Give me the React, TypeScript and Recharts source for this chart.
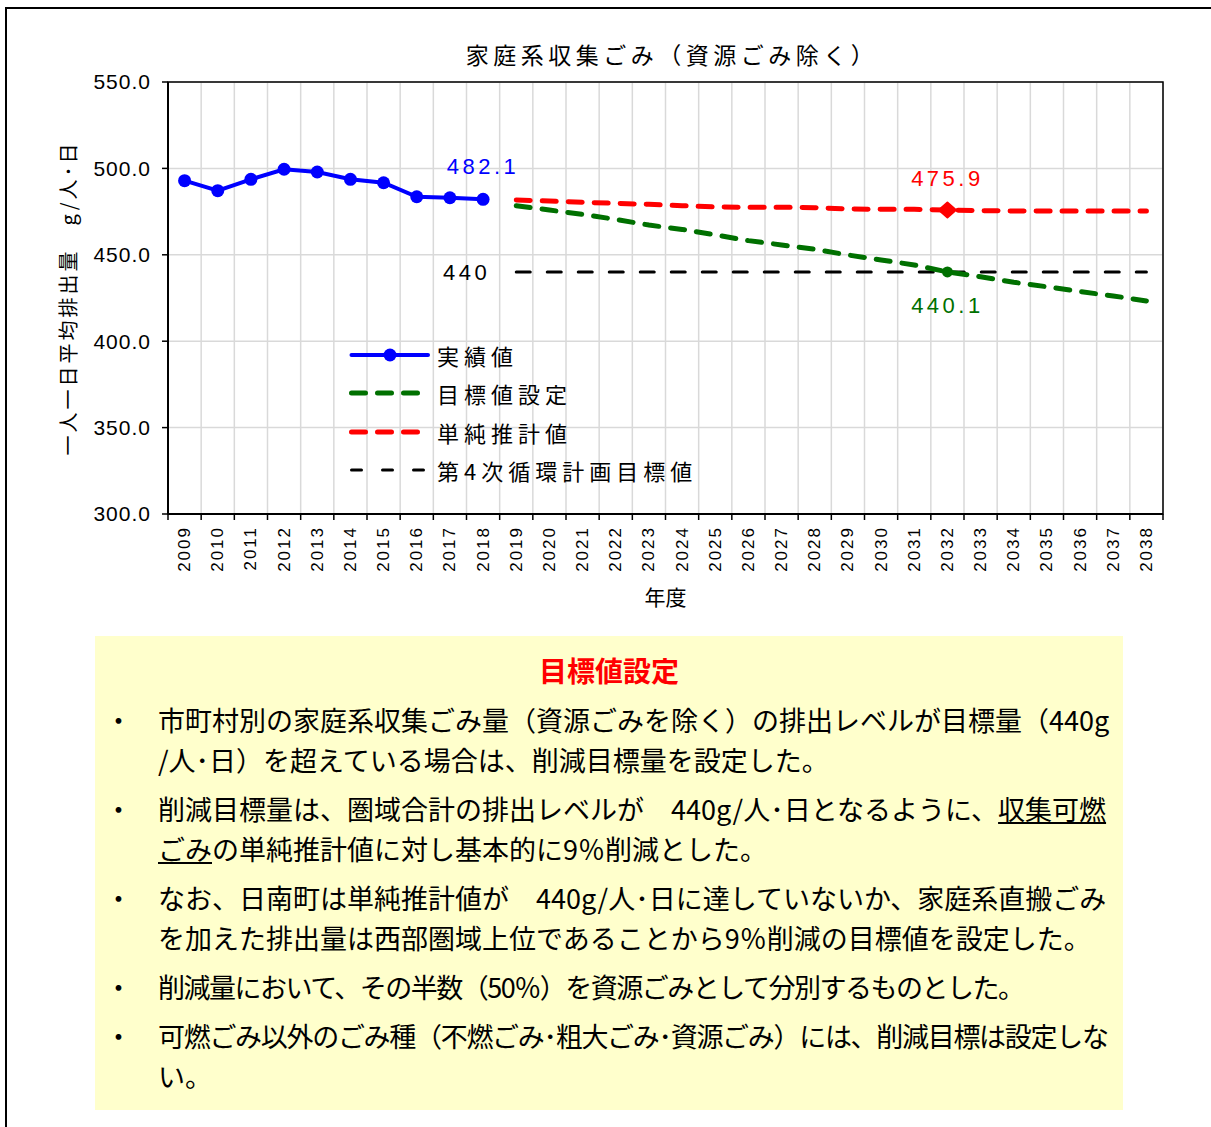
import React from 'react';
import { LineChart, Line, XAxis, YAxis, CartesianGrid, ReferenceArea, Legend, Label } from 'recharts';

const years = [
  '2009', '2010', '2011', '2012', '2013', '2014', '2015', '2016', '2017', '2018',
  '2019', '2020', '2021', '2022', '2023', '2024', '2025', '2026', '2027', '2028',
  '2029', '2030', '2031', '2032', '2033', '2034', '2035', '2036', '2037', '2038',
];

// 実績値 2009-2018
const actual = [492.9, 487.1, 493.7, 499.5, 497.9, 493.7, 491.7, 483.6, 483.0, 482.1];
// 目標値設定 2019-2038
const target = [478.4, 475.9, 473.4, 470.5, 467.2, 464.7, 461.5, 458.2, 455.7, 453.2,
  449.9, 447.0, 444.1, 440.1, 437.3, 434.1, 431.5, 428.7, 426.2, 423.3];
// 単純推計値 2019-2038
const simple = [481.7, 481.1, 480.4, 479.8, 479.2, 478.4, 477.7, 477.5, 477.5, 477.3,
  476.5, 476.3, 476.3, 475.9, 475.5, 475.4, 475.3, 475.3, 475.3, 475.3];
// 第4次循環計画目標値 2019-2038
const plan = [440, 440, 440, 440, 440, 440, 440, 440, 440, 440,
  440, 440, 440, 440, 440, 440, 440, 440, 440, 440];

const yTicks = [300, 350, 400, 450, 500, 550];
const forecastFrom = 10; // 2019
const markIdx = 23; // 2032

const data = years.map((year, i) => ({
  i,
  year,
  actual: i < actual.length ? actual[i] : null,
  target: i >= forecastFrom ? target[i - forecastFrom] : null,
  simple: i >= forecastFrom ? simple[i - forecastFrom] : null,
  plan: i >= forecastFrom ? plan[i - forecastFrom] : null,
}));

const edgeTicks = years.map((_, i) => i - 0.5).concat([years.length - 0.5]);
const centerTicks = years.map((_, i) => i);
const xDomain = [-0.5, years.length - 0.5];

const JP = '"Noto Sans CJK JP", "Noto Sans", sans-serif';
const NUM = '"Liberation Sans", Arial, sans-serif';

const BLUE = '#0000ff';
const GREEN = '#007000';
const RED = '#ff0000';

const legendOrder = ['実績値', '目標値設定', '単純推計値', '第4次循環計画目標値'];
const swatch: Record<string, { w: number; dash?: string; dot?: boolean }> = {
  '実績値': { w: 4, dot: true },
  '目標値設定': { w: 5, dash: '14 12' },
  '単純推計値': { w: 5, dash: '14 12' },
  '第4次循環計画目標値': { w: 3, dash: '10 21' },
};

function YearTick(props: any) {
  const { x, y, payload } = props;
  return (
    <text x={x} y={y} transform={`rotate(-90 ${x} ${y})`} textAnchor="end" dominantBaseline="central"
      fontFamily={NUM} fontSize={17} letterSpacing={2} fill="#000">
      {years[payload.value]}
    </text>
  );
}

function LegendBox(props: any) {
  const items = [...(props.payload || [])].sort(
    (a: any, b: any) => legendOrder.indexOf(a.value) - legendOrder.indexOf(b.value)
  );
  return (
    <div>
      {items.map((it: any) => {
        const s = swatch[it.value];
        return (
          <div key={it.value} style={{ display: 'flex', alignItems: 'center', height: 38.3 }}>
            <svg width={88} height={20}>
              <line x1={2.5} x2={79} y1={10} y2={10} stroke={it.color} strokeWidth={s.w}
                strokeDasharray={s.dash} strokeLinecap="round" />
              {s.dot && <circle cx={41} cy={10} r={6.5} fill={it.color} />}
            </svg>
            <span style={{ fontFamily: JP, fontSize: 22, letterSpacing: 5, color: '#000', whiteSpace: 'nowrap' }}>
              {it.value}
            </span>
          </div>
        );
      })}
    </div>
  );
}

const valueText = (x: number, y: number, text: string, color: string, anchor = 'middle') => (
  <text x={x} y={y} textAnchor={anchor} dominantBaseline="central" fontFamily={NUM}
    fontSize={22} letterSpacing={3.5} fill={color}>
    {text}
  </text>
);

export default function App() {
  return (
    <div style={{ position: 'relative', width: 1211, height: 1127, overflow: 'hidden', background: '#fff' }}>
      <style>{'body{margin:0;overflow:hidden}'}</style>
      <div style={{ position: 'absolute', left: 5, top: 7, width: 1300, height: 1300, border: '2px solid #000', boxSizing: 'border-box' }} />

      <div style={{ position: 'absolute', left: 672, top: 54, transform: 'translate(-50%, -50%)', fontFamily: JP, fontSize: 23, letterSpacing: 4.5, whiteSpace: 'nowrap', color: '#000' }}>
        家庭系収集ごみ（資源ごみ除く）
      </div>

      <div style={{ position: 'absolute', left: 0, top: 0 }}>
        <LineChart width={1211} height={620} data={data} margin={{ top: 82, right: 48, bottom: 0, left: 0 }}>
          <CartesianGrid stroke="#d9d9d9" strokeWidth={1.5} />
          <ReferenceArea x1={xDomain[0]} x2={xDomain[1]} y1={300} y2={550} fill="none" stroke="#000" strokeWidth={1.5} />
          <XAxis dataKey="i" type="number" domain={xDomain} ticks={edgeTicks} interval={0} allowDataOverflow
            tickFormatter={() => ''} tickSize={6} height={6}
            axisLine={{ stroke: '#000', strokeWidth: 2 }} tickLine={{ stroke: '#000', strokeWidth: 1.5 }} />
          <XAxis xAxisId="lab" dataKey="i" type="number" domain={xDomain} ticks={centerTicks} interval={0} allowDataOverflow
            axisLine={false} tickLine={false} tickSize={0} tickMargin={6} height={100} tick={<YearTick />}>
            <Label content={(p: any) => (
              <text x={p.viewBox.x + p.viewBox.width / 2} y={p.viewBox.y + 76} textAnchor="middle"
                dominantBaseline="central" fontFamily={JP} fontSize={21} fill="#000">年度</text>
            )} />
          </XAxis>
          <YAxis domain={[300, 550]} ticks={yTicks} interval={0} width={168} allowDataOverflow
            tickFormatter={(v: number) => v.toFixed(1)} tickSize={6} tickMargin={11}
            tick={{ fill: '#000', fontSize: 21, fontFamily: NUM, letterSpacing: 1 }}
            axisLine={{ stroke: '#000', strokeWidth: 2 }} tickLine={{ stroke: '#000', strokeWidth: 1.5 }}>
            <Label content={(p: any) => {
              const cy = p.viewBox.y + p.viewBox.height / 2;
              return (
                <text x={67} y={cy} transform={`rotate(-90 67 ${cy})`} textAnchor="middle" dominantBaseline="central"
                  fontFamily={JP} fontSize={20} letterSpacing={3} fill="#000">一人一日平均排出量　g/人･日</text>
              );
            }} />
          </YAxis>
          <Legend layout="vertical" align="center" verticalAlign="middle" content={<LegendBox />}
            wrapperStyle={{ left: 349, top: 336, width: 380 }} />

          <Line dataKey="plan" name="第4次循環計画目標値" stroke="#000" strokeWidth={3} strokeDasharray="14 17"
            strokeLinecap="round" dot={false} isAnimationActive={false}
            label={(p: any) => p.index === forecastFrom
              ? <g key={`pl-${p.index}`}>{valueText(p.x - 26, p.y, '440', '#000', 'end')}</g>
              : <g key={`pl-${p.index}`} />} />
          <Line dataKey="target" name="目標値設定" stroke={GREEN} strokeWidth={5} strokeDasharray="14 12"
            strokeLinecap="round" isAnimationActive={false}
            dot={(p: any) => p.index === markIdx
              ? <circle key={`td-${p.index}`} cx={p.cx} cy={p.cy} r={5.5} fill={GREEN} />
              : <g key={`td-${p.index}`} />}
            label={(p: any) => p.index === markIdx
              ? <g key={`tl-${p.index}`}>{valueText(p.x, p.y + 34, '440.1', GREEN)}</g>
              : <g key={`tl-${p.index}`} />} />
          <Line dataKey="simple" name="単純推計値" stroke={RED} strokeWidth={5} strokeDasharray="14 12"
            strokeLinecap="round" isAnimationActive={false}
            dot={(p: any) => p.index === markIdx
              ? <path key={`sd-${p.index}`} d={`M${p.cx - 8.5},${p.cy} L${p.cx},${p.cy - 7.5} L${p.cx + 8.5},${p.cy} L${p.cx},${p.cy + 7.5} Z`}
                fill={RED} stroke={RED} strokeWidth={2} strokeLinejoin="round" />
              : <g key={`sd-${p.index}`} />}
            label={(p: any) => p.index === markIdx
              ? <g key={`sl-${p.index}`}>{valueText(p.x, p.y - 32, '475.9', RED)}</g>
              : <g key={`sl-${p.index}`} />} />
          <Line dataKey="actual" name="実績値" stroke={BLUE} strokeWidth={4} isAnimationActive={false}
            dot={{ r: 6.5, fill: BLUE, stroke: BLUE, strokeWidth: 0 }}
            label={(p: any) => p.index === actual.length - 1
              ? <g key={`al-${p.index}`}>{valueText(p.x, p.y - 33, '482.1', BLUE)}</g>
              : <g key={`al-${p.index}`} />} />
        </LineChart>
      </div>

      <div style={{ position: 'absolute', left: 95, top: 636, width: 1028, height: 474, background: '#ffffcc', fontFamily: JP, color: '#000', boxSizing: 'border-box', paddingTop: 16 }}>
        <div style={{ textAlign: 'center', color: RED, fontSize: 28, fontWeight: 700, lineHeight: '36px' }}>目標値設定</div>
        <div style={{ marginTop: 12, fontSize: 27, lineHeight: '40px', whiteSpace: 'nowrap' }}>
          <Item>
            <div>市町村別の家庭系収集ごみ量（資源ごみを除く）の排出レベルが目標量（440g</div>
            <div>/人･日）を超えている場合は、削減目標量を設定した。</div>
          </Item>
          <Item>
            <div>削減目標量は、圏域合計の排出レベルが　440g/人･日となるように、<u>収集可燃</u></div>
            <div><u>ごみ</u>の単純推計値に対し基本的に9％削減とした。</div>
          </Item>
          <Item>
            <div>なお、日南町は単純推計値が　440g/人･日に達していないか、家庭系直搬ごみ</div>
            <div>を加えた排出量は西部圏域上位であることから9％削減の目標値を設定した。</div>
          </Item>
          <Item>
            <div style={{ letterSpacing: -1.5 }}>削減量において、その半数（50％）を資源ごみとして分別するものとした。</div>
          </Item>
          <Item>
            <div style={{ letterSpacing: -1.3 }}>可燃ごみ以外のごみ種（不燃ごみ･粗大ごみ･資源ごみ）には、削減目標は設定しな</div>
            <div>い。</div>
          </Item>
        </div>
      </div>
    </div>
  );
}

function Item({ children }: { children: React.ReactNode }) {
  return (
    <div style={{ display: 'flex', marginBottom: 9 }}>
      <div style={{ width: 63, flexShrink: 0, paddingLeft: 10, boxSizing: 'border-box' }}>・</div>
      <div>{children}</div>
    </div>
  );
}
